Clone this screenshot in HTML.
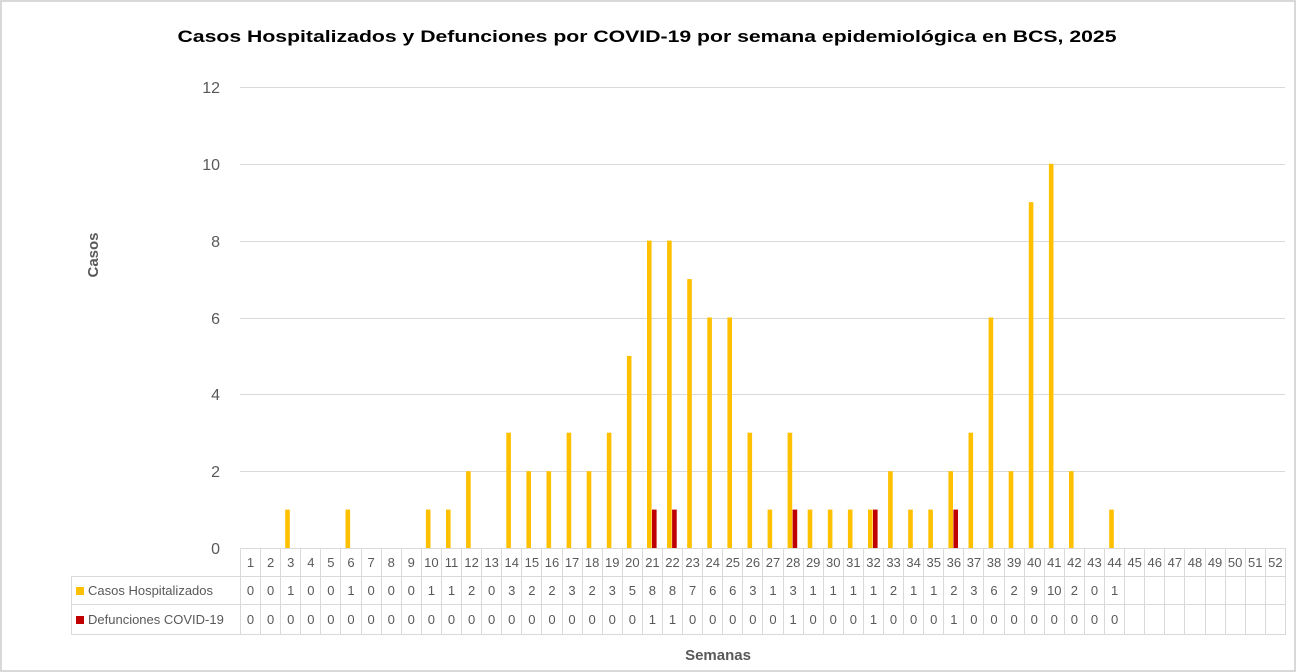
<!DOCTYPE html>
<html><head><meta charset="utf-8"><style>
body{margin:0;width:1296px;height:672px;overflow:hidden;background:#fff;font-family:"Liberation Sans",sans-serif}
#f{position:absolute;left:0;top:0;width:1292px;height:668px;border:2px solid #d9d9d9}
svg{position:absolute;left:0;top:0}
table{position:absolute;left:71px;top:548px;border-collapse:collapse;table-layout:fixed;font-size:13px;color:#595959}
td{border:1px solid #d9d9d9;text-align:center;padding:0;overflow:hidden;white-space:nowrap}
td.l{text-align:left;padding-left:4px;font-size:13px}
tr.a td{height:27px}tr.b td{height:27px}tr.c td{height:29px}
td.e{border:none}
.sq{display:inline-block;width:8px;height:8px;margin-right:4px}
</style></head><body>
<div id="f"></div>
<svg width="1296" height="672">
<text x="647" y="42" text-anchor="middle" font-weight="bold" font-size="17" textLength="939" lengthAdjust="spacingAndGlyphs">Casos Hospitalizados y Defunciones por COVID-19 por semana epidemiológica en BCS, 2025</text>
<g stroke="#d9d9d9" stroke-width="1">
<line x1="240" x2="1285" y1="87.5" y2="87.5"/><line x1="240" x2="1285" y1="164.5" y2="164.5"/><line x1="240" x2="1285" y1="241.5" y2="241.5"/><line x1="240" x2="1285" y1="318.5" y2="318.5"/><line x1="240" x2="1285" y1="394.5" y2="394.5"/><line x1="240" x2="1285" y1="471.5" y2="471.5"/>
</g>
<g fill="#595959" font-size="16" text-anchor="end">
<text x="220" y="93">12</text><text x="220" y="170">10</text><text x="220" y="247">8</text><text x="220" y="324">6</text><text x="220" y="400">4</text><text x="220" y="477">2</text><text x="220" y="554">0</text>
</g>
<text transform="translate(98,255) rotate(-90)" text-anchor="middle" font-weight="bold" font-size="15" fill="#595959">Casos</text>
<text x="718" y="660" text-anchor="middle" font-weight="bold" font-size="15" fill="#595959">Semanas</text>
<g fill="#ffc000">
<rect x="285.2" y="509.6" width="4.6" height="38.4"/>
<rect x="345.5" y="509.6" width="4.6" height="38.4"/>
<rect x="425.9" y="509.6" width="4.6" height="38.4"/>
<rect x="446.0" y="509.6" width="4.6" height="38.4"/>
<rect x="466.1" y="471.2" width="4.6" height="76.8"/>
<rect x="506.3" y="432.7" width="4.6" height="115.3"/>
<rect x="526.4" y="471.2" width="4.6" height="76.8"/>
<rect x="546.5" y="471.2" width="4.6" height="76.8"/>
<rect x="566.6" y="432.7" width="4.6" height="115.3"/>
<rect x="586.7" y="471.2" width="4.6" height="76.8"/>
<rect x="606.8" y="432.7" width="4.6" height="115.3"/>
<rect x="626.9" y="355.9" width="4.6" height="192.1"/>
<rect x="647.0" y="240.6" width="4.6" height="307.4"/>
<rect x="667.1" y="240.6" width="4.6" height="307.4"/>
<rect x="687.2" y="279.1" width="4.6" height="268.9"/>
<rect x="707.3" y="317.5" width="4.6" height="230.5"/>
<rect x="727.4" y="317.5" width="4.6" height="230.5"/>
<rect x="747.5" y="432.7" width="4.6" height="115.3"/>
<rect x="767.6" y="509.6" width="4.6" height="38.4"/>
<rect x="787.6" y="432.7" width="4.6" height="115.3"/>
<rect x="807.7" y="509.6" width="4.6" height="38.4"/>
<rect x="827.8" y="509.6" width="4.6" height="38.4"/>
<rect x="847.9" y="509.6" width="4.6" height="38.4"/>
<rect x="868.0" y="509.6" width="4.6" height="38.4"/>
<rect x="888.1" y="471.2" width="4.6" height="76.8"/>
<rect x="908.2" y="509.6" width="4.6" height="38.4"/>
<rect x="928.3" y="509.6" width="4.6" height="38.4"/>
<rect x="948.4" y="471.2" width="4.6" height="76.8"/>
<rect x="968.5" y="432.7" width="4.6" height="115.3"/>
<rect x="988.6" y="317.5" width="4.6" height="230.5"/>
<rect x="1008.7" y="471.2" width="4.6" height="76.8"/>
<rect x="1028.8" y="202.2" width="4.6" height="345.8"/>
<rect x="1048.9" y="163.8" width="4.6" height="384.2"/>
<rect x="1069.0" y="471.2" width="4.6" height="76.8"/>
<rect x="1109.2" y="509.6" width="4.6" height="38.4"/>
</g>
<g fill="#c00000">
<rect x="652" y="509.6" width="4.6" height="38.4"/>
<rect x="672.1" y="509.6" width="4.6" height="38.4"/>
<rect x="792.6" y="509.6" width="4.6" height="38.4"/>
<rect x="873.0" y="509.6" width="4.6" height="38.4"/>
<rect x="953.4" y="509.6" width="4.6" height="38.4"/>
</g>
</svg>
<table style="width:1214px">
<colgroup><col style="width:169px"><col span="52" style="width:20.096px"></colgroup>
<tr class="a"><td class="e"></td><td>1</td><td>2</td><td>3</td><td>4</td><td>5</td><td>6</td><td>7</td><td>8</td><td>9</td><td>10</td><td>11</td><td>12</td><td>13</td><td>14</td><td>15</td><td>16</td><td>17</td><td>18</td><td>19</td><td>20</td><td>21</td><td>22</td><td>23</td><td>24</td><td>25</td><td>26</td><td>27</td><td>28</td><td>29</td><td>30</td><td>31</td><td>32</td><td>33</td><td>34</td><td>35</td><td>36</td><td>37</td><td>38</td><td>39</td><td>40</td><td>41</td><td>42</td><td>43</td><td>44</td><td>45</td><td>46</td><td>47</td><td>48</td><td>49</td><td>50</td><td>51</td><td>52</td></tr>
<tr class="b"><td class="l"><span class="sq" style="background:#ffc000"></span>Casos Hospitalizados</td><td>0</td><td>0</td><td>1</td><td>0</td><td>0</td><td>1</td><td>0</td><td>0</td><td>0</td><td>1</td><td>1</td><td>2</td><td>0</td><td>3</td><td>2</td><td>2</td><td>3</td><td>2</td><td>3</td><td>5</td><td>8</td><td>8</td><td>7</td><td>6</td><td>6</td><td>3</td><td>1</td><td>3</td><td>1</td><td>1</td><td>1</td><td>1</td><td>2</td><td>1</td><td>1</td><td>2</td><td>3</td><td>6</td><td>2</td><td>9</td><td>10</td><td>2</td><td>0</td><td>1</td><td></td><td></td><td></td><td></td><td></td><td></td><td></td><td></td></tr>
<tr class="c"><td class="l"><span class="sq" style="background:#c00000"></span>Defunciones COVID-19</td><td>0</td><td>0</td><td>0</td><td>0</td><td>0</td><td>0</td><td>0</td><td>0</td><td>0</td><td>0</td><td>0</td><td>0</td><td>0</td><td>0</td><td>0</td><td>0</td><td>0</td><td>0</td><td>0</td><td>0</td><td>1</td><td>1</td><td>0</td><td>0</td><td>0</td><td>0</td><td>0</td><td>1</td><td>0</td><td>0</td><td>0</td><td>1</td><td>0</td><td>0</td><td>0</td><td>1</td><td>0</td><td>0</td><td>0</td><td>0</td><td>0</td><td>0</td><td>0</td><td>0</td><td></td><td></td><td></td><td></td><td></td><td></td><td></td><td></td></tr>
</table>
</body></html>
